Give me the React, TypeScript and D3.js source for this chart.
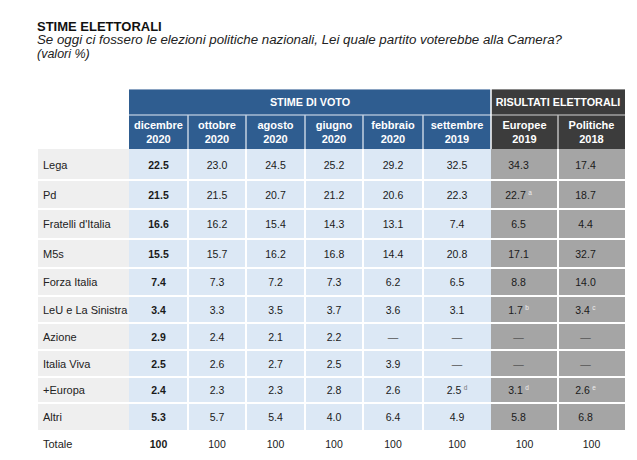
import React from "react";
import * as d3 from "d3";

const parties = [
  "Lega",
  "Pd",
  "Fratelli d'Italia",
  "M5s",
  "Forza Italia",
  "LeU e La Sinistra",
  "Azione",
  "Italia Viva",
  "+Europa",
  "Altri",
];
const periodMonths = ["dicembre", "ottobre", "agosto", "giugno", "febbraio", "settembre", "Europee", "Politiche"];
const periodYears = ["2020", "2020", "2020", "2020", "2020", "2019", "2019", "2018"];
const periodGroup = [0, 0, 0, 0, 0, 0, 1, 1];
const groupLabels = ["STIME DI VOTO", "RISULTATI ELETTORALI"];

const dic2020 = [22.5, 21.5, 16.6, 15.5, 7.4, 3.4, 2.9, 2.5, 2.4, 5.3];
const ott2020 = [23.0, 21.5, 16.2, 15.7, 7.3, 3.3, 2.4, 2.6, 2.3, 5.7];
const ago2020 = [24.5, 20.7, 15.4, 16.2, 7.2, 3.5, 2.1, 2.7, 2.3, 5.4];
const giu2020 = [25.2, 21.2, 14.3, 16.8, 7.3, 3.7, 2.2, 2.5, 2.8, 4.0];
const feb2020 = [29.2, 20.6, 13.1, 14.4, 6.2, 3.6, null, 3.9, 2.6, 6.4];
const set2019 = [32.5, 22.3, 7.4, 20.8, 6.5, 3.1, null, null, 2.5, 4.9];
const eur2019 = [34.3, 22.7, 6.5, 17.1, 8.8, 1.7, null, null, 3.1, 5.8];
const pol2018 = [17.4, 18.7, 4.4, 32.7, 14.0, 3.4, null, null, 2.6, 6.8];
const columns: (number | null)[][] = [dic2020, ott2020, ago2020, giu2020, feb2020, set2019, eur2019, pol2018];

const set2019Notes = ["", "", "", "", "", "", "", "", "d", ""];
const eur2019Notes = ["", "a", "", "", "", "b", "", "", "d", ""];
const pol2018Notes = ["", "", "", "", "", "c", "", "", "e", ""];
const notes: string[][] = [[], [], [], [], [], set2019Notes, eur2019Notes, pol2018Notes];

const totals = [100, 100, 100, 100, 100, 100, 100, 100];

const title = "STIME ELETTORALI";
const subtitle = "Se oggi ci fossero le elezioni politiche nazionali, Lei quale partito voterebbe alla Camera?";
const subtitle2 = "(valori %)";

// layout
const W = 637;
const H = 460;
const LABEL_X = 38;
const TABLE_X = 129;
const COL_W = [59, 58, 59, 58, 60, 68, 67, 67];
const HEAD_Y = 89;
const HEAD1_H = 26;
const HEAD2_H = 34;
const ROW_H = [31, 29, 30, 29, 28, 27, 27, 27, 26, 27];
const TOT_H = 28;

const FONT = "'Liberation Sans', Arial, Helvetica, sans-serif";
const BLUE_DARK = "#2f5d90";
const GRAY_DARK = "#3c3c3c";
const BLUE_LIGHT = "#dce8f5";
const GRAY_MID = "#a5a5a5";
const LABEL_BG = "#efefef";

function fmt(v: number | null) {
  return v == null ? "—" : d3.format(".1f")(v);
}
function approxWidth(s: string, fs: number) {
  let w = 0;
  for (const c of s) w += c === "." ? 0.278 : 0.556;
  return w * fs;
}

export default function App() {
  const xEdges = [TABLE_X, ...d3.cumsum(COL_W).map((d) => TABLE_X + d)];
  const bodyY = HEAD_Y + HEAD1_H + HEAD2_H;
  const yEdges = [bodyY, ...d3.cumsum(ROW_H).map((d) => bodyY + d)];
  const bodyEnd = yEdges[yEdges.length - 1];
  const tableRight = xEdges[xEdges.length - 1];

  const groupX = (g: number) => {
    const idx = periodGroup.map((p, i) => (p === g ? i : -1)).filter((i) => i >= 0);
    return [xEdges[idx[0]], xEdges[idx[idx.length - 1] + 1]];
  };

  const valueFs = 10.5;

  return (
    <div style={{ position: "absolute", left: 0, top: 0 }}>
      <svg width={W} height={H} style={{ display: "block", background: "#fff" }} fontFamily={FONT}>
        <rect width={W} height={H} fill="#fff" />
        <text x={37} y={31} fontSize={13} fontWeight="bold" fill="#111">
          {title}
        </text>
        <text x={37} y={44} fontSize={12.5} fontStyle="italic" fill="#222" textLength={525} lengthAdjust="spacingAndGlyphs">
          {subtitle}
        </text>
        <text x={37} y={58} fontSize={12.5} fontStyle="italic" fill="#222">
          {subtitle2}
        </text>

        {/* header row 1 */}
        {groupLabels.map((g, gi) => {
          const [x0, x1] = groupX(gi);
          const fill = gi === 0 ? BLUE_DARK : GRAY_DARK;
          return (
            <g key={g}>
              <rect x={x0} y={HEAD_Y} width={x1 - x0} height={HEAD1_H + HEAD2_H} fill={fill} />
              <line x1={x0} x2={x1} y1={HEAD_Y + 0.5} y2={HEAD_Y + 0.5} stroke={gi === 0 ? "#8aa3c2" : "#8a8a8a"} strokeWidth={1} />
              <line x1={x0} x2={x1} y1={HEAD_Y + HEAD1_H} y2={HEAD_Y + HEAD1_H} stroke={gi === 0 ? "#a9bdd4" : "#a0a0a0"} strokeWidth={1.5} />
              <text x={(x0 + x1) / 2} y={HEAD_Y + 17} textAnchor="middle" fontSize={10.8} fontWeight="bold" fill="#fff">
                {g}
              </text>
            </g>
          );
        })}
        <line x1={xEdges[6]} x2={xEdges[6]} y1={HEAD_Y} y2={bodyY} stroke="#ffffff" strokeWidth={1.5} />

        {/* header row 2 */}
        {periodMonths.map((m, j) => {
          const cx = (xEdges[j] + xEdges[j + 1]) / 2;
          return (
            <g key={m}>
              {j > 0 && j !== 6 && (
                <line
                  x1={xEdges[j]}
                  x2={xEdges[j]}
                  y1={HEAD_Y + HEAD1_H}
                  y2={bodyY}
                  stroke={periodGroup[j] === 0 ? "#c4d2e2" : "#bcbcbc"}
                  strokeWidth={1.5}
                />
              )}
              <text x={cx} y={HEAD_Y + HEAD1_H + 14} textAnchor="middle" fontSize={11} fontWeight="bold" fill="#fff">
                {m}
              </text>
              <text x={cx} y={HEAD_Y + HEAD1_H + 28} textAnchor="middle" fontSize={11} fontWeight="bold" fill="#fff">
                {periodYears[j]}
              </text>
            </g>
          );
        })}

        {/* body backgrounds */}
        <rect x={LABEL_X} y={bodyY} width={TABLE_X - LABEL_X} height={bodyEnd - bodyY} fill={LABEL_BG} />
        {columns.map((col, j) => (
          <rect
            key={"bg" + j}
            x={xEdges[j]}
            y={bodyY}
            width={COL_W[j]}
            height={bodyEnd - bodyY}
            fill={periodGroup[j] === 0 ? BLUE_LIGHT : GRAY_MID}
          />
        ))}
        {/* separators */}
        {yEdges.slice(1, -1).map((y, i) => (
          <line key={"h" + i} x1={LABEL_X} x2={tableRight} y1={y} y2={y} stroke="#fff" strokeWidth={2} />
        ))}
        {xEdges.slice(1, -1).map((x, j) =>
          j + 1 === 6 ? null : (
            <line key={"v" + j} x1={x} x2={x} y1={bodyY} y2={bodyEnd} stroke="#fff" strokeWidth={2} />
          )
        )}

        {/* labels */}
        {parties.map((p, i) => (
          <text key={p} x={43} y={(yEdges[i] + yEdges[i + 1]) / 2 + 4} fontSize={11} fill="#222">
            {p}
          </text>
        ))}
        <text x={43} y={bodyEnd + TOT_H / 2 + 4} fontSize={11} fill="#222">
          Totale
        </text>

        {/* values */}
        {columns.map((col, j) => {
          const offset = periodGroup[j] === 1 ? -6 : 0;
          const cx = (xEdges[j] + xEdges[j + 1]) / 2;
          return (
            <g key={"c" + j}>
              {col.map((v, i) => {
                const cy = (yEdges[i] + yEdges[i + 1]) / 2;
                const s = fmt(v);
                const note = notes[j][i];
                const nx = note ? cx + offset - 3 : cx + offset;
                const w = approxWidth(s, valueFs);
                return (
                  <g key={i}>
                    <text
                      x={v == null ? cx + offset : nx}
                      y={cy + 4}
                      textAnchor="middle"
                      fontSize={valueFs}
                      fontWeight={j === 0 ? "bold" : "normal"}
                      fill={v == null ? "#555" : "#1a1a1a"}
                    >
                      {s}
                    </text>
                    {note && (
                      <text
                        x={nx + w / 2 + 2.5}
                        y={cy}
                        fontSize={6.5}
                        fill={periodGroup[j] === 1 ? "#eeeeee" : "#777"}
                      >
                        {note}
                      </text>
                    )}
                  </g>
                );
              })}
              <text
                x={cx}
                y={bodyEnd + TOT_H / 2 + 4}
                textAnchor="middle"
                fontSize={valueFs}
                fontWeight={j === 0 ? "bold" : "normal"}
                fill="#1a1a1a"
              >
                {totals[j]}
              </text>
            </g>
          );
        })}
      </svg>
    </div>
  );
}
